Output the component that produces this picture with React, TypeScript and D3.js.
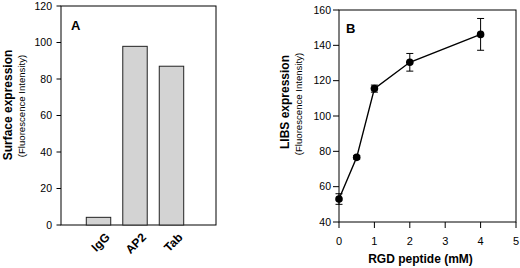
import React from "react";
import * as d3 from "d3";

const categories = ["IgG", "AP2", "Tab"];
const surfaceValues = [4.2, 97.9, 87.0];
const yTicksA = [0, 20, 40, 60, 80, 100, 120];

const rgdDose = [0, 0.5, 1, 2, 4];
const libsValues = [53, 76.6, 115.5, 130.4, 146.2];
const libsErrors = [3, 1, 2, 5, 9];
const xTicksB = [0, 1, 2, 3, 4, 5];
const yTicksB = [40, 60, 80, 100, 120, 140, 160];

const FONT = "'Liberation Sans', Arial, Helvetica, sans-serif";

export default function App() {
  // Panel A geometry
  const aL = 61, aR = 216, aT = 6, aB = 225;
  const yA = d3.scaleLinear().domain([0, 120]).range([aB, aT]);
  const xA = d3.scaleBand().domain(categories).range([74.25, 195.75]).paddingInner(0.33).paddingOuter(0.33);

  // Panel B geometry
  const bL = 339, bR = 516, bT = 10, bB = 222;
  const xB = d3.scaleLinear().domain([0, 5]).range([bL, bR]);
  const yB = d3.scaleLinear().domain([40, 160]).range([bB, bT]);
  const line = d3.line<number>().x((_, i) => xB(rgdDose[i])).y((d) => yB(d));

  return (
    <svg width={520} height={268} style={{ position: "absolute", left: 0, top: 0, background: "#fff" }} fontFamily={FONT}>
      <rect x={0} y={0} width={520} height={268} fill="#fff" />
      {/* Panel A */}
      <rect x={aL} y={aT} width={aR - aL} height={aB - aT} fill="none" stroke="#000" strokeWidth={1} />
      {yTicksA.map((t) => (
        <g key={t}>
          <line x1={aL - 4.5} x2={aL} y1={yA(t)} y2={yA(t)} stroke="#000" strokeWidth={1} />
          <text x={aL - 9} y={yA(t)} dy="0.35em" textAnchor="end" fontSize={10.5}>{t}</text>
        </g>
      ))}
      {categories.map((c, i) => (
        <g key={c}>
          <rect x={xA(c)} y={yA(surfaceValues[i])} width={xA.bandwidth()} height={yA(0) - yA(surfaceValues[i])} fill="#d3d3d3" stroke="#222" strokeWidth={1} />
          <text transform={`translate(${(xA(c) as number) + xA.bandwidth() / 2 + 12},${238}) rotate(-45)`} textAnchor="end" fontSize={12} fontWeight="bold">{c}</text>
        </g>
      ))}
      <text x={71} y={30} fontSize={13} fontWeight="bold">A</text>
      <text transform={`translate(12,105) rotate(-90)`} textAnchor="middle" fontSize={12} fontWeight="bold">Surface expression</text>
      <text transform={`translate(24.5,106) rotate(-90)`} textAnchor="middle" fontSize={9.6}>(Fluorescence Intensity)</text>

      {/* Panel B */}
      <rect x={bL} y={bT} width={bR - bL} height={bB - bT} fill="none" stroke="#000" strokeWidth={1} />
      {yTicksB.map((t) => (
        <g key={t}>
          <line x1={bL - 6} x2={bL} y1={yB(t)} y2={yB(t)} stroke="#000" strokeWidth={1} />
          <text x={bL - 8} y={yB(t)} dy="0.35em" textAnchor="end" fontSize={10.5}>{t}</text>
        </g>
      ))}
      {xTicksB.map((t) => (
        <g key={t}>
          <line x1={xB(t)} x2={xB(t)} y1={bB} y2={bB + 6} stroke="#000" strokeWidth={1} />
          <text x={xB(t)} y={245} textAnchor="middle" fontSize={11}>{t}</text>
        </g>
      ))}
      <path d={line(libsValues) || ""} fill="none" stroke="#000" strokeWidth={1.4} />
      {rgdDose.map((d, i) => (
        <g key={d}>
          <line x1={xB(d)} x2={xB(d)} y1={yB(libsValues[i] - libsErrors[i])} y2={yB(libsValues[i] + libsErrors[i])} stroke="#000" strokeWidth={1} />
          <line x1={xB(d) - 3.5} x2={xB(d) + 3.5} y1={yB(libsValues[i] - libsErrors[i])} y2={yB(libsValues[i] - libsErrors[i])} stroke="#000" strokeWidth={1} />
          <line x1={xB(d) - 3.5} x2={xB(d) + 3.5} y1={yB(libsValues[i] + libsErrors[i])} y2={yB(libsValues[i] + libsErrors[i])} stroke="#000" strokeWidth={1} />
          <circle cx={xB(d)} cy={yB(libsValues[i])} r={3.8} fill="#000" />
        </g>
      ))}
      <text x={346} y={33} fontSize={13} fontWeight="bold">B</text>
      <text transform={`translate(289,102) rotate(-90)`} textAnchor="middle" fontSize={12} fontWeight="bold">LIBS expression</text>
      <text transform={`translate(301.5,104) rotate(-90)`} textAnchor="middle" fontSize={9.6}>(Fluorescence Intensity)</text>
      <text x={420.5} y={263} textAnchor="middle" fontSize={12} fontWeight="bold">RGD peptide (mM)</text>
    </svg>
  );
}
